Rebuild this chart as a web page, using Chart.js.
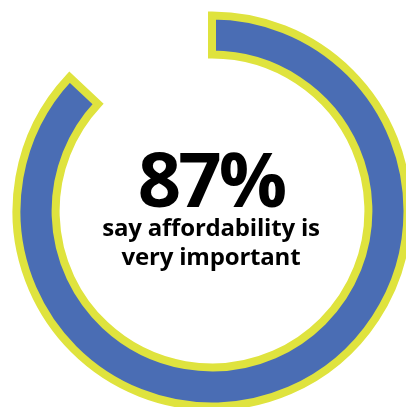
<!DOCTYPE html>
<html>
<head>
<meta charset="utf-8">
<script src="https://cdn.jsdelivr.net/npm/chart.js@4/dist/chart.umd.min.js"></script>
<style>
  html, body { margin: 0; padding: 0; background: #ffffff; }
  #wrap { width: 406px; height: 407px; position: relative; }
</style>
</head>
<body>
<div id="wrap"><canvas id="c"></canvas></div>
<script>
// Share of respondents who rate affordability as very important
const categories = ['Very important', 'Other'];
const shares = [87, 13];
const captionLines = ['say affordability is', 'very important'];

const ringBlue = '#4a6db4';
const ringYellow = '#dfe33e';

// Centre headline and caption drawn inside the ring
const centreText = {
  id: 'centreText',
  afterDraw(chart) {
    const arc = chart.getDatasetMeta(0).data[0];
    const cx = arc.x, cy = arc.y;
    const ctx = chart.ctx;
    ctx.save();
    ctx.fillStyle = '#000000';
    ctx.textAlign = 'center';
    ctx.textBaseline = 'alphabetic';
    ctx.font = '700 76px "Open Sans"';
    ctx.letterSpacing = '-3px';
    ctx.fillText(shares[0] + '%', cx - 1, cy - 4);
    ctx.font = '700 24px "Open Sans"';
    ctx.letterSpacing = '-0.2px';
    captionLines.forEach((line, i) => {
      ctx.fillText(line, cx - 1, cy + 25 + i * 28.5);
    });
    ctx.restore();
  }
};

new Chart(document.getElementById('c'), {
  type: 'doughnut',
  data: {
    labels: categories,
    datasets: [{
      data: shares,
      backgroundColor: [ringBlue, 'rgba(0,0,0,0)'],
      borderColor: [ringYellow, 'rgba(0,0,0,0)'],
      borderWidth: [8, 0],
      borderJoinStyle: 'miter',
      hoverOffset: 0
    }]
  },
  options: {
    responsive: true,
    maintainAspectRatio: false,
    animation: false,
    radius: 195.5,
    cutout: '80%',
    layout: { padding: { left: 18, top: 15, right: 0, bottom: 0 } },
    plugins: {
      legend: { display: false },
      tooltip: { enabled: false }
    },
    events: []
  },
  plugins: [centreText]
});
</script>
</body>
</html>
